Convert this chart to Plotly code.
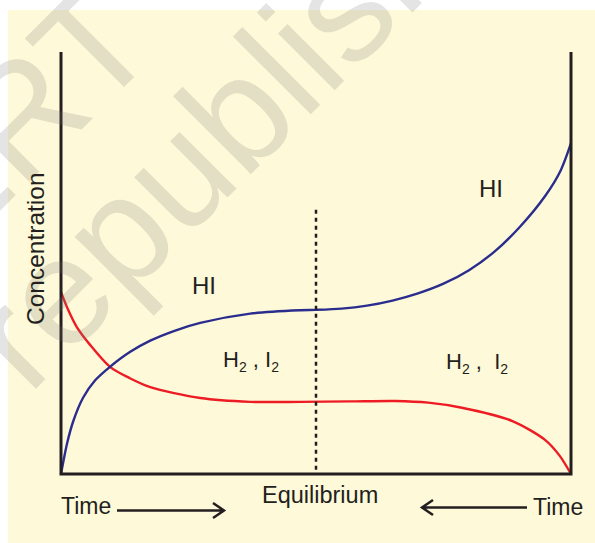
import plotly.graph_objects as go

# ---- data (time in arbitrary units 0..10, concentration arbitrary 0..10) ----
time_hi = [0, 0.12, 0.24, 0.43, 0.67, 0.96, 1.35, 1.75, 2.24, 2.73, 3.71,
           4.69, 5.0, 5.5, 6.0, 6.5, 7.0, 7.5, 8.0, 8.5, 9.0, 9.5, 9.8, 10]
conc_hi = [0, 0.73, 1.25, 1.80, 2.22, 2.54, 2.89, 3.16, 3.40, 3.58, 3.80,
           3.88, 3.89, 3.92, 3.99, 4.11, 4.28, 4.51, 4.83, 5.27, 5.86, 6.6, 7.2, 7.84]

time_h2 = [0, 0.14, 0.31, 0.57, 0.96, 1.35, 1.75, 2.73, 3.71, 4.69, 5.67, 6.55,
           7.2, 7.86, 8.84, 9.49, 9.78, 10]
conc_h2 = [4.31, 3.89, 3.48, 3.06, 2.54, 2.27, 2.06, 1.80, 1.71, 1.71, 1.72, 1.73,
           1.69, 1.57, 1.26, 0.81, 0.43, 0]

equilibrium_time = 5.0
equilibrium_top = 6.26

SUB2 = "<sub><span style='font-size:14px'>2</span></sub>"
labels_hi = ["HI", "HI"]
labels_h2 = [f"H{SUB2} , I{SUB2}", f"H{SUB2} ,  I{SUB2}"]

# ---- layout constants ----
W, H = 595, 543
BG_YELLOW = "#FEF9D8"
INK = "#231F20"
BLUE = "#2A2D8E"
RED = "#ED1C24"
FONT = "Liberation Sans, Arial, Helvetica, sans-serif"

# pixel mapping: x pixel = 61 + 51*t ; y pixel = 474 - 42.2*c
x_range = [-61 / 51, (W - 61) / 51]
y_range = [-(H - 474) / 42.2, 474 / 42.2]


def px(x):
    return x / W


def py(y):
    return 1 - y / H


fig = go.Figure()

fig.add_trace(go.Scatter(x=time_h2, y=conc_h2, mode="lines",
                         line=dict(color=RED, width=2.4, shape="spline", smoothing=0.8),
                         hoverinfo="skip", showlegend=False))
fig.add_trace(go.Scatter(x=time_hi, y=conc_hi, mode="lines",
                         line=dict(color=BLUE, width=2.4, shape="spline", smoothing=0.8),
                         hoverinfo="skip", showlegend=False))

shapes = [
    # yellow background panel
    dict(type="rect", xref="paper", yref="paper", x0=px(8), x1=1, y0=0, y1=py(10),
         fillcolor=BG_YELLOW, line=dict(width=0), layer="below"),
    # axes frame (left, bottom, right)
    dict(type="path", xref="x", yref="y", path="M 0,10 L 0,0 L 10,0 L 10,10",
         line=dict(color=INK, width=3), layer="above"),
    # equilibrium dotted line
    dict(type="line", xref="x", yref="y", x0=equilibrium_time, x1=equilibrium_time,
         y0=0.1, y1=equilibrium_top, line=dict(color=INK, width=2.5, dash="4px,4px"),
         layer="above"),
    # left arrow (Time ->)
    dict(type="path", xref="paper", yref="paper",
         path=f"M {px(117)},{py(510.5)} L {px(224)},{py(510.5)} "
              f"M {px(213)},{py(503)} L {px(224)},{py(510.5)} L {px(213)},{py(518)}",
         line=dict(color=INK, width=2.5)),
    # right arrow (<- Time)
    dict(type="path", xref="paper", yref="paper",
         path=f"M {px(527)},{py(507.5)} L {px(422)},{py(507.5)} "
              f"M {px(433)},{py(500)} L {px(422)},{py(507.5)} L {px(433)},{py(515)}",
         line=dict(color=INK, width=2.5)),
]

wm_color = "rgba(120,120,120,0.2)"
annotations = [
    # watermark
    dict(text="NCERT", x=px(-60), y=py(196), xref="paper", yref="paper",
         showarrow=False, textangle=-45, xanchor="center", yanchor="middle",
         font=dict(family=FONT, size=152, color=wm_color)),
    dict(text="not to be republished", x=px(45), y=py(305), xref="paper", yref="paper",
         showarrow=False, textangle=-45, xanchor="center", yanchor="middle",
         font=dict(family=FONT, size=152, color=wm_color)),
]
labels = [
    (labels_hi[0], 204, 285, 24, 0),
    (labels_hi[1], 491, 188, 24, 0),
    (labels_h2[0], 251, 361, 22, 0),
    (labels_h2[1], 477, 363, 22, 0),
    ("Concentration", 35, 249, 24.5, -90),
    ("Equilibrium", 320, 495, 23.5, 0),
    ("Time", 86, 506, 23, 0),
    ("Time", 558, 507, 23, 0),
]
for text, x, y, size, ang in labels:
    annotations.append(dict(text=text, x=px(x), y=py(y), xref="paper", yref="paper",
                            showarrow=False, xanchor="center", yanchor="middle",
                            textangle=ang,
                            font=dict(family=FONT, size=size, color=INK)))

fig.update_layout(
    width=W, height=H, autosize=False,
    margin=dict(l=0, r=0, t=0, b=0),
    font=dict(family=FONT, size=22, color=INK),
    paper_bgcolor="white", plot_bgcolor="rgba(0,0,0,0)",
    xaxis=dict(range=x_range, visible=False, fixedrange=True),
    yaxis=dict(range=y_range, visible=False, fixedrange=True),
    shapes=shapes, annotations=annotations, showlegend=False,
)

fig.write_html("out.html", config={"displayModeBar": False},
               post_script="document.body.style.margin='0';")
